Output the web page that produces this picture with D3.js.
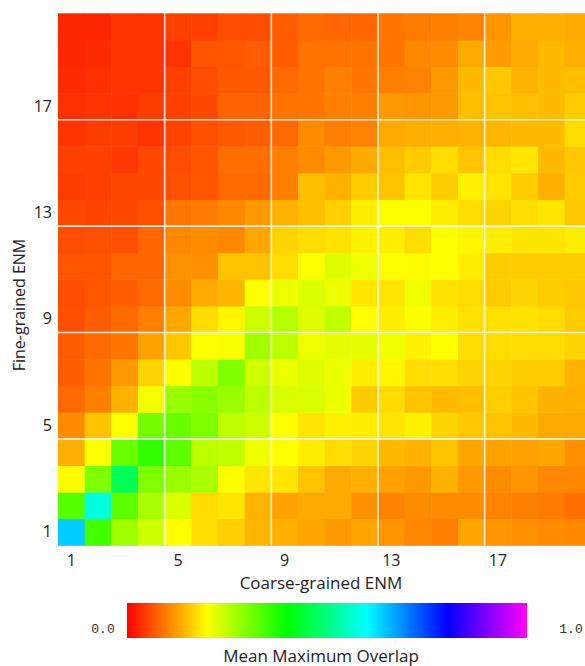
<!DOCTYPE html>
<html>
<head>
<meta charset="utf-8">
<script src="https://cdn.jsdelivr.net/npm/d3@7"></script>
<style>
  html, body { margin: 0; padding: 0; background: #fff; overflow: hidden; }
</style>
</head>
<body>
<div id="area"></div>
<script>
var width = 585,
    height = 666;

// heatmap box (the last column runs past the right edge, as in the original)
var hm = {left: 58, top: 13.3, right: 591.3, bottom: 545.3};

var coarseLevels = [1,2,3,4,5,6,7,8,9,10,11,12,13,14,15,16,17,18,19,20];
var fineLevels   = [1,2,3,4,5,6,7,8,9,10,11,12,13,14,15,16,17,18,19,20];
var tickLevels   = [1,5,9,13,17];
var colorTicks   = ["0.0", "1.0"];

// mean maximum overlap, one row per fine-grained level (1 at the bottom),
// one value per coarse-grained level
var overlap = [
  [.640,.347,.273,.240,.200,.173,.163,.143,.137,.130,.120,.130,.117,.107,.100,.130,.117,.113,.110,.107],
  [.333,.573,.327,.267,.230,.173,.180,.140,.127,.133,.133,.113,.103,.110,.110,.110,.103,.100,.097,.087],
  [.200,.300,.467,.300,.280,.267,.200,.180,.180,.153,.133,.137,.127,.120,.140,.120,.110,.117,.107,.107],
  [.137,.200,.317,.360,.327,.253,.250,.213,.200,.187,.173,.167,.147,.140,.153,.130,.127,.127,.130,.113],
  [.110,.153,.200,.307,.317,.300,.253,.240,.200,.180,.190,.187,.180,.190,.167,.157,.153,.147,.133,.133],
  [.083,.100,.140,.207,.280,.293,.280,.253,.230,.230,.213,.160,.173,.153,.147,.150,.163,.153,.140,.137],
  [.073,.090,.120,.167,.200,.253,.300,.240,.213,.227,.213,.187,.193,.173,.173,.167,.167,.160,.160,.140],
  [.073,.083,.093,.127,.157,.200,.203,.273,.253,.213,.220,.220,.210,.190,.200,.173,.173,.173,.173,.167],
  [.063,.073,.083,.100,.130,.173,.193,.240,.257,.227,.250,.200,.187,.203,.187,.177,.177,.177,.173,.160],
  [.060,.067,.073,.083,.110,.133,.143,.200,.213,.230,.213,.180,.180,.210,.177,.173,.160,.167,.160,.157],
  [.067,.067,.080,.080,.113,.113,.153,.153,.173,.200,.227,.213,.200,.197,.200,.187,.160,.160,.160,.160],
  [.060,.063,.063,.080,.107,.110,.107,.130,.167,.173,.177,.190,.187,.173,.200,.193,.187,.180,.180,.187],
  [.057,.053,.057,.063,.093,.097,.107,.120,.140,.150,.163,.187,.200,.200,.187,.173,.167,.173,.180,.157],
  [.047,.050,.057,.057,.063,.067,.083,.083,.100,.150,.140,.160,.153,.180,.160,.190,.180,.160,.137,.160],
  [.050,.050,.043,.057,.060,.067,.087,.087,.100,.110,.120,.133,.150,.160,.173,.153,.173,.180,.147,.157],
  [.040,.047,.047,.040,.053,.063,.070,.073,.083,.110,.100,.103,.133,.137,.137,.140,.143,.147,.147,.173],
  [.037,.040,.037,.047,.050,.057,.077,.077,.090,.093,.100,.100,.120,.117,.120,.150,.153,.150,.147,.160],
  [.033,.037,.040,.040,.050,.060,.070,.070,.083,.090,.100,.093,.100,.103,.120,.147,.157,.140,.147,.150],
  [.030,.033,.040,.040,.040,.067,.067,.073,.073,.090,.090,.090,.093,.107,.110,.133,.123,.133,.147,.137],
  [.030,.030,.040,.040,.050,.050,.060,.060,.073,.083,.080,.080,.093,.097,.100,.103,.117,.137,.137,.133]
];

var cells = [];
overlap.forEach(function(row, i) {
    row.forEach(function(v, j) {
        cells.push({fine: fineLevels[i], coarse: coarseLevels[j], value: v});
    });
});

var svg = d3.select("#area")
    .append("svg")
        .attr("width", width)
        .attr("height", height);

var x = d3.scaleBand()
    .domain(coarseLevels)
    .range([hm.left, hm.right]);

var y = d3.scaleBand()
    .domain(fineLevels)
    .range([hm.bottom, hm.top]);

// hue colour map: 0 -> red, 1 -> magenta
function color(v) {
    return d3.hsl(v * 300, 1, 0.5).toString();
}

svg.selectAll("rect.cell")
    .data(cells)
    .enter()
    .append("rect")
        .attr("class", "cell")
        .attr("x", function(d) { return x(d.coarse); })
        .attr("y", function(d) { return y(d.fine); })
        .attr("width", x.bandwidth() + 0.5)
        .attr("height", y.bandwidth() + 0.5)
        .attr("fill", function(d) { return color(d.value); });

// white grid every 4 levels
var gridTicks = tickLevels.slice(1);

svg.selectAll("line.vgrid")
    .data(gridTicks)
    .enter()
    .append("line")
        .attr("class", "vgrid")
        .attr("x1", function(d) { return x(d); })
        .attr("x2", function(d) { return x(d); })
        .attr("y1", hm.top)
        .attr("y2", hm.bottom)
        .attr("stroke", "#fff")
        .attr("stroke-opacity", 0.85)
        .attr("stroke-width", 1.6);

svg.selectAll("line.hgrid")
    .data(gridTicks)
    .enter()
    .append("line")
        .attr("class", "hgrid")
        .attr("x1", hm.left)
        .attr("x2", hm.right)
        .attr("y1", function(d) { return y(d) + y.bandwidth(); })
        .attr("y2", function(d) { return y(d) + y.bandwidth(); })
        .attr("stroke", "#fff")
        .attr("stroke-opacity", 0.85)
        .attr("stroke-width", 1.6);

var labelFont = "'Open Sans', 'Noto Sans', sans-serif";

var xAxis = svg.append("g")
    .attr("transform", "translate(0," + hm.bottom + ")")
    .call(d3.axisBottom(x).tickValues(tickLevels).tickSize(0).tickPadding(9));
xAxis.select(".domain").remove();
xAxis.selectAll("text")
    .attr("font-family", labelFont)
    .attr("font-size", "16px")
    .attr("fill", "#222");

var yAxis = svg.append("g")
    .attr("transform", "translate(" + hm.left + ",0)")
    .call(d3.axisLeft(y).tickValues(tickLevels).tickSize(0).tickPadding(6));
yAxis.select(".domain").remove();
yAxis.selectAll("text")
    .attr("font-family", labelFont)
    .attr("font-size", "16px")
    .attr("fill", "#222");

svg.append("text")
    .attr("x", 321)
    .attr("y", 589)
    .attr("text-anchor", "middle")
    .attr("font-family", labelFont)
    .attr("font-size", "17px")
    .attr("fill", "#222")
    .text("Coarse-grained ENM");

svg.append("text")
    .attr("transform", "rotate(-90)")
    .attr("x", -305)
    .attr("y", 25)
    .attr("text-anchor", "middle")
    .attr("font-family", labelFont)
    .attr("font-size", "16px")
    .attr("fill", "#222")
    .text("Fine-grained ENM");

// colour bar
var cbar = {left: 127, right: 527, top: 603, bottom: 638};

var grad = svg.append("defs")
    .append("linearGradient")
        .attr("id", "hueGrad")
        .attr("x1", "0%").attr("x2", "100%")
        .attr("y1", "0%").attr("y2", "0%");

grad.selectAll("stop")
    .data(d3.range(0, 1.0001, 0.05))
    .enter()
    .append("stop")
        .attr("offset", function(d) { return (d * 100) + "%"; })
        .attr("stop-color", function(d) { return color(d); });

svg.append("rect")
    .attr("x", cbar.left)
    .attr("y", cbar.top)
    .attr("width", cbar.right - cbar.left)
    .attr("height", cbar.bottom - cbar.top)
    .attr("fill", "url(#hueGrad)");

var cscale = d3.scaleLinear()
    .domain([0, 1])
    .range([103, 571]);

svg.selectAll("text.cticks")
    .data(colorTicks)
    .enter()
    .append("text")
        .attr("class", "cticks")
        .attr("x", function(d) { return cscale(+d); })
        .attr("y", 633)
        .attr("text-anchor", "middle")
        .attr("font-family", "'Liberation Mono', 'DejaVu Sans Mono', monospace")
        .attr("font-size", "13px")
        .attr("fill", "#333")
        .text(function(d) { return d; });

svg.append("text")
    .attr("x", 321)
    .attr("y", 662)
    .attr("text-anchor", "middle")
    .attr("font-family", labelFont)
    .attr("font-size", "17px")
    .attr("fill", "#222")
    .text("Mean Maximum Overlap");
</script>
</body>
</html>
